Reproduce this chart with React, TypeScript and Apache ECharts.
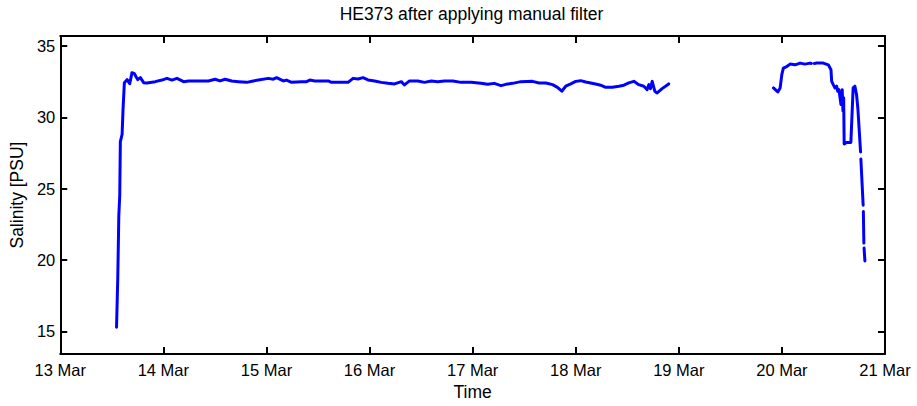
import React, { useEffect, useRef } from "react";
import * as echarts from "echarts";

const FONT = "'Liberation Sans', Arial, Helvetica, sans-serif";

const titleText = "HE373 after applying manual filter";
const xAxisName = "Time";
const yAxisName = "Salinity [PSU]";
const yTicks = [15, 20, 25, 30, 35];

// time in days of March (fractional); null salinity = gap in record
const timeDays = [
  13.546, 13.558, 13.568, 13.577, 13.583, 13.6, 13.609, 13.622, 13.648, 13.674,
  13.696, 13.719, 13.751, 13.777, 13.809, 13.841, 13.922, 13.986, 14.035, 14.083,
  14.132, 14.196, 14.245, 14.341, 14.438, 14.502, 14.55, 14.599, 14.663, 14.728,
  14.809, 14.873, 14.922, 15.018, 15.067, 15.099, 15.163, 15.195, 15.244, 15.34,
  15.389, 15.421, 15.469, 15.534, 15.599, 15.631, 15.727, 15.792, 15.84, 15.889,
  15.937, 15.985, 16.049, 16.114, 16.179, 16.243, 16.308, 16.339, 16.388, 16.469,
  16.533, 16.598, 16.662, 16.726, 16.808, 16.888, 16.985, 17.081, 17.146, 17.21,
  17.275, 17.323, 17.388, 17.468, 17.581, 17.645, 17.71, 17.775, 17.823, 17.865,
  17.903, 17.952, 18.0, 18.048, 18.097, 18.145, 18.193, 18.242, 18.29, 18.355,
  18.419, 18.467, 18.515, 18.564, 18.612, 18.661, 18.693, 18.709, 18.725, 18.742,
  18.767, 18.79, 18.838, 18.902,
  19.4,
  19.918, 19.96, 19.983, 19.999, 20.014, 20.047, 20.079, 20.128, 20.176, 20.224,
  20.273, 20.285,
  20.3,
  20.314, 20.337, 20.401, 20.45, 20.476, 20.483, 20.498, 20.515, 20.531, 20.541,
  20.553, 20.573, 20.585, 20.592, 20.599, 20.604, 20.628, 20.669, 20.691, 20.708,
  20.724, 20.737, 20.763,
  20.765,
  20.766, 20.788,
  20.789,
  20.79, 20.795,
  20.796,
  20.797, 20.805,
];

const salinity: (number | null)[] = [
  15.28, 18.75, 23.1, 24.5, 28.3, 28.8, 30.56, 32.43, 32.64, 32.36,
  33.13, 33.06, 32.64, 32.78, 32.43, 32.4, 32.5, 32.61, 32.73, 32.61,
  32.73, 32.5, 32.55, 32.55, 32.55, 32.67, 32.55, 32.67, 32.55, 32.5,
  32.45, 32.55, 32.61, 32.73, 32.67, 32.78, 32.55, 32.61, 32.45, 32.5,
  32.5, 32.61, 32.55, 32.55, 32.55, 32.45, 32.45, 32.45, 32.73, 32.69,
  32.78, 32.62, 32.55, 32.45, 32.38, 32.34, 32.5, 32.27, 32.55, 32.55,
  32.45, 32.55, 32.5, 32.55, 32.55, 32.45, 32.45, 32.38, 32.31, 32.38,
  32.22, 32.31, 32.38, 32.5, 32.52, 32.41, 32.41, 32.29, 32.1, 31.83,
  32.18, 32.34, 32.52, 32.57, 32.48, 32.41, 32.34, 32.25, 32.1, 32.1,
  32.18, 32.25, 32.41, 32.52, 32.29, 32.18, 31.94, 32.29, 32.01, 32.52,
  31.83, 31.71, 32.01, 32.34,
  null,
  32.06, 31.78, 32.06, 32.99, 33.45, 33.56, 33.73, 33.68, 33.8, 33.73,
  33.8, 33.77,
  null,
  33.78, 33.8, 33.8, 33.68, 33.33, 32.52, 32.29, 32.06, 32.18, 31.83,
  31.94, 30.9, 31.94, 30.44, 31.37, 28.13, 28.24, 28.24, 32.06, 32.18,
  31.6, 30.6, 27.57,
  null,
  27.08, 23.84,
  null,
  23.4, 21.18,
  null,
  20.83, 19.93,
];

const X_MIN = 13;
const X_MAX = 21;
const Y_MIN = 13.4;
const Y_MAX = 35.7;

export default function App() {
  const ref = useRef<HTMLDivElement>(null);

  useEffect(() => {
    document.body.style.margin = "0";
    if (!ref.current) return;
    const chart = echarts.init(ref.current, null, { renderer: "svg" });

    const axisLine = { show: true, onZero: false, lineStyle: { color: "#000", width: 2 } };
    const tick = { show: true, inside: true, length: 7, lineStyle: { color: "#000", width: 2 } };

    const data = timeDays.map((t, i) => [t, salinity[i]]);

    chart.setOption({
      animation: false,
      backgroundColor: "#fff",
      grid: { left: 58, right: 32, top: 36, bottom: 49, containLabel: false },
      graphic: [
        {
          type: "text",
          x: 471.5,
          y: 14,
          style: {
            text: titleText,
            align: "center",
            verticalAlign: "middle",
            fontSize: 17.5,
            fontFamily: FONT,
            fill: "#000",
          },
        },
      ],
      xAxis: [
        {
          type: "value",
          position: "bottom",
          min: X_MIN,
          max: X_MAX,
          interval: 1,
          axisLine,
          axisTick: tick,
          splitLine: { show: false },
          axisLabel: {
            formatter: (v: number) => `${v} Mar`,
            fontSize: 16.5,
            fontFamily: FONT,
            color: "#000",
            margin: 7,
          },
          name: xAxisName,
          nameLocation: "middle",
          nameGap: 25,
          nameTextStyle: { fontSize: 17.5, fontFamily: FONT, color: "#000" },
        },
        {
          type: "value",
          position: "top",
          min: X_MIN,
          max: X_MAX,
          interval: 1,
          axisLine,
          axisTick: tick,
          splitLine: { show: false },
          axisLabel: { show: false },
        },
      ],
      yAxis: [
        {
          type: "value",
          position: "left",
          min: Y_MIN,
          max: Y_MAX,
          axisLine,
          axisTick: { ...tick, customValues: yTicks },
          splitLine: { show: false },
          axisLabel: {
            customValues: yTicks,
            fontSize: 16.5,
            fontFamily: FONT,
            color: "#000",
            margin: 5,
          },
          name: yAxisName,
          nameLocation: "middle",
          nameGap: 30,
          nameTextStyle: { fontSize: 17.5, fontFamily: FONT, color: "#000" },
        },
        {
          type: "value",
          position: "right",
          min: Y_MIN,
          max: Y_MAX,
          axisLine,
          axisTick: { ...tick, customValues: yTicks },
          splitLine: { show: false },
          axisLabel: { show: false },
        },
      ],
      series: [
        {
          type: "line",
          xAxisIndex: 0,
          yAxisIndex: 0,
          data,
          symbol: "none",
          showSymbol: false,
          connectNulls: false,
          lineStyle: { color: "#0000ff", width: 3, cap: "round", join: "round" },
        },
      ],
    });

    return () => chart.dispose();
  }, []);

  return <div ref={ref} style={{ width: 917, height: 406 }} />;
}
